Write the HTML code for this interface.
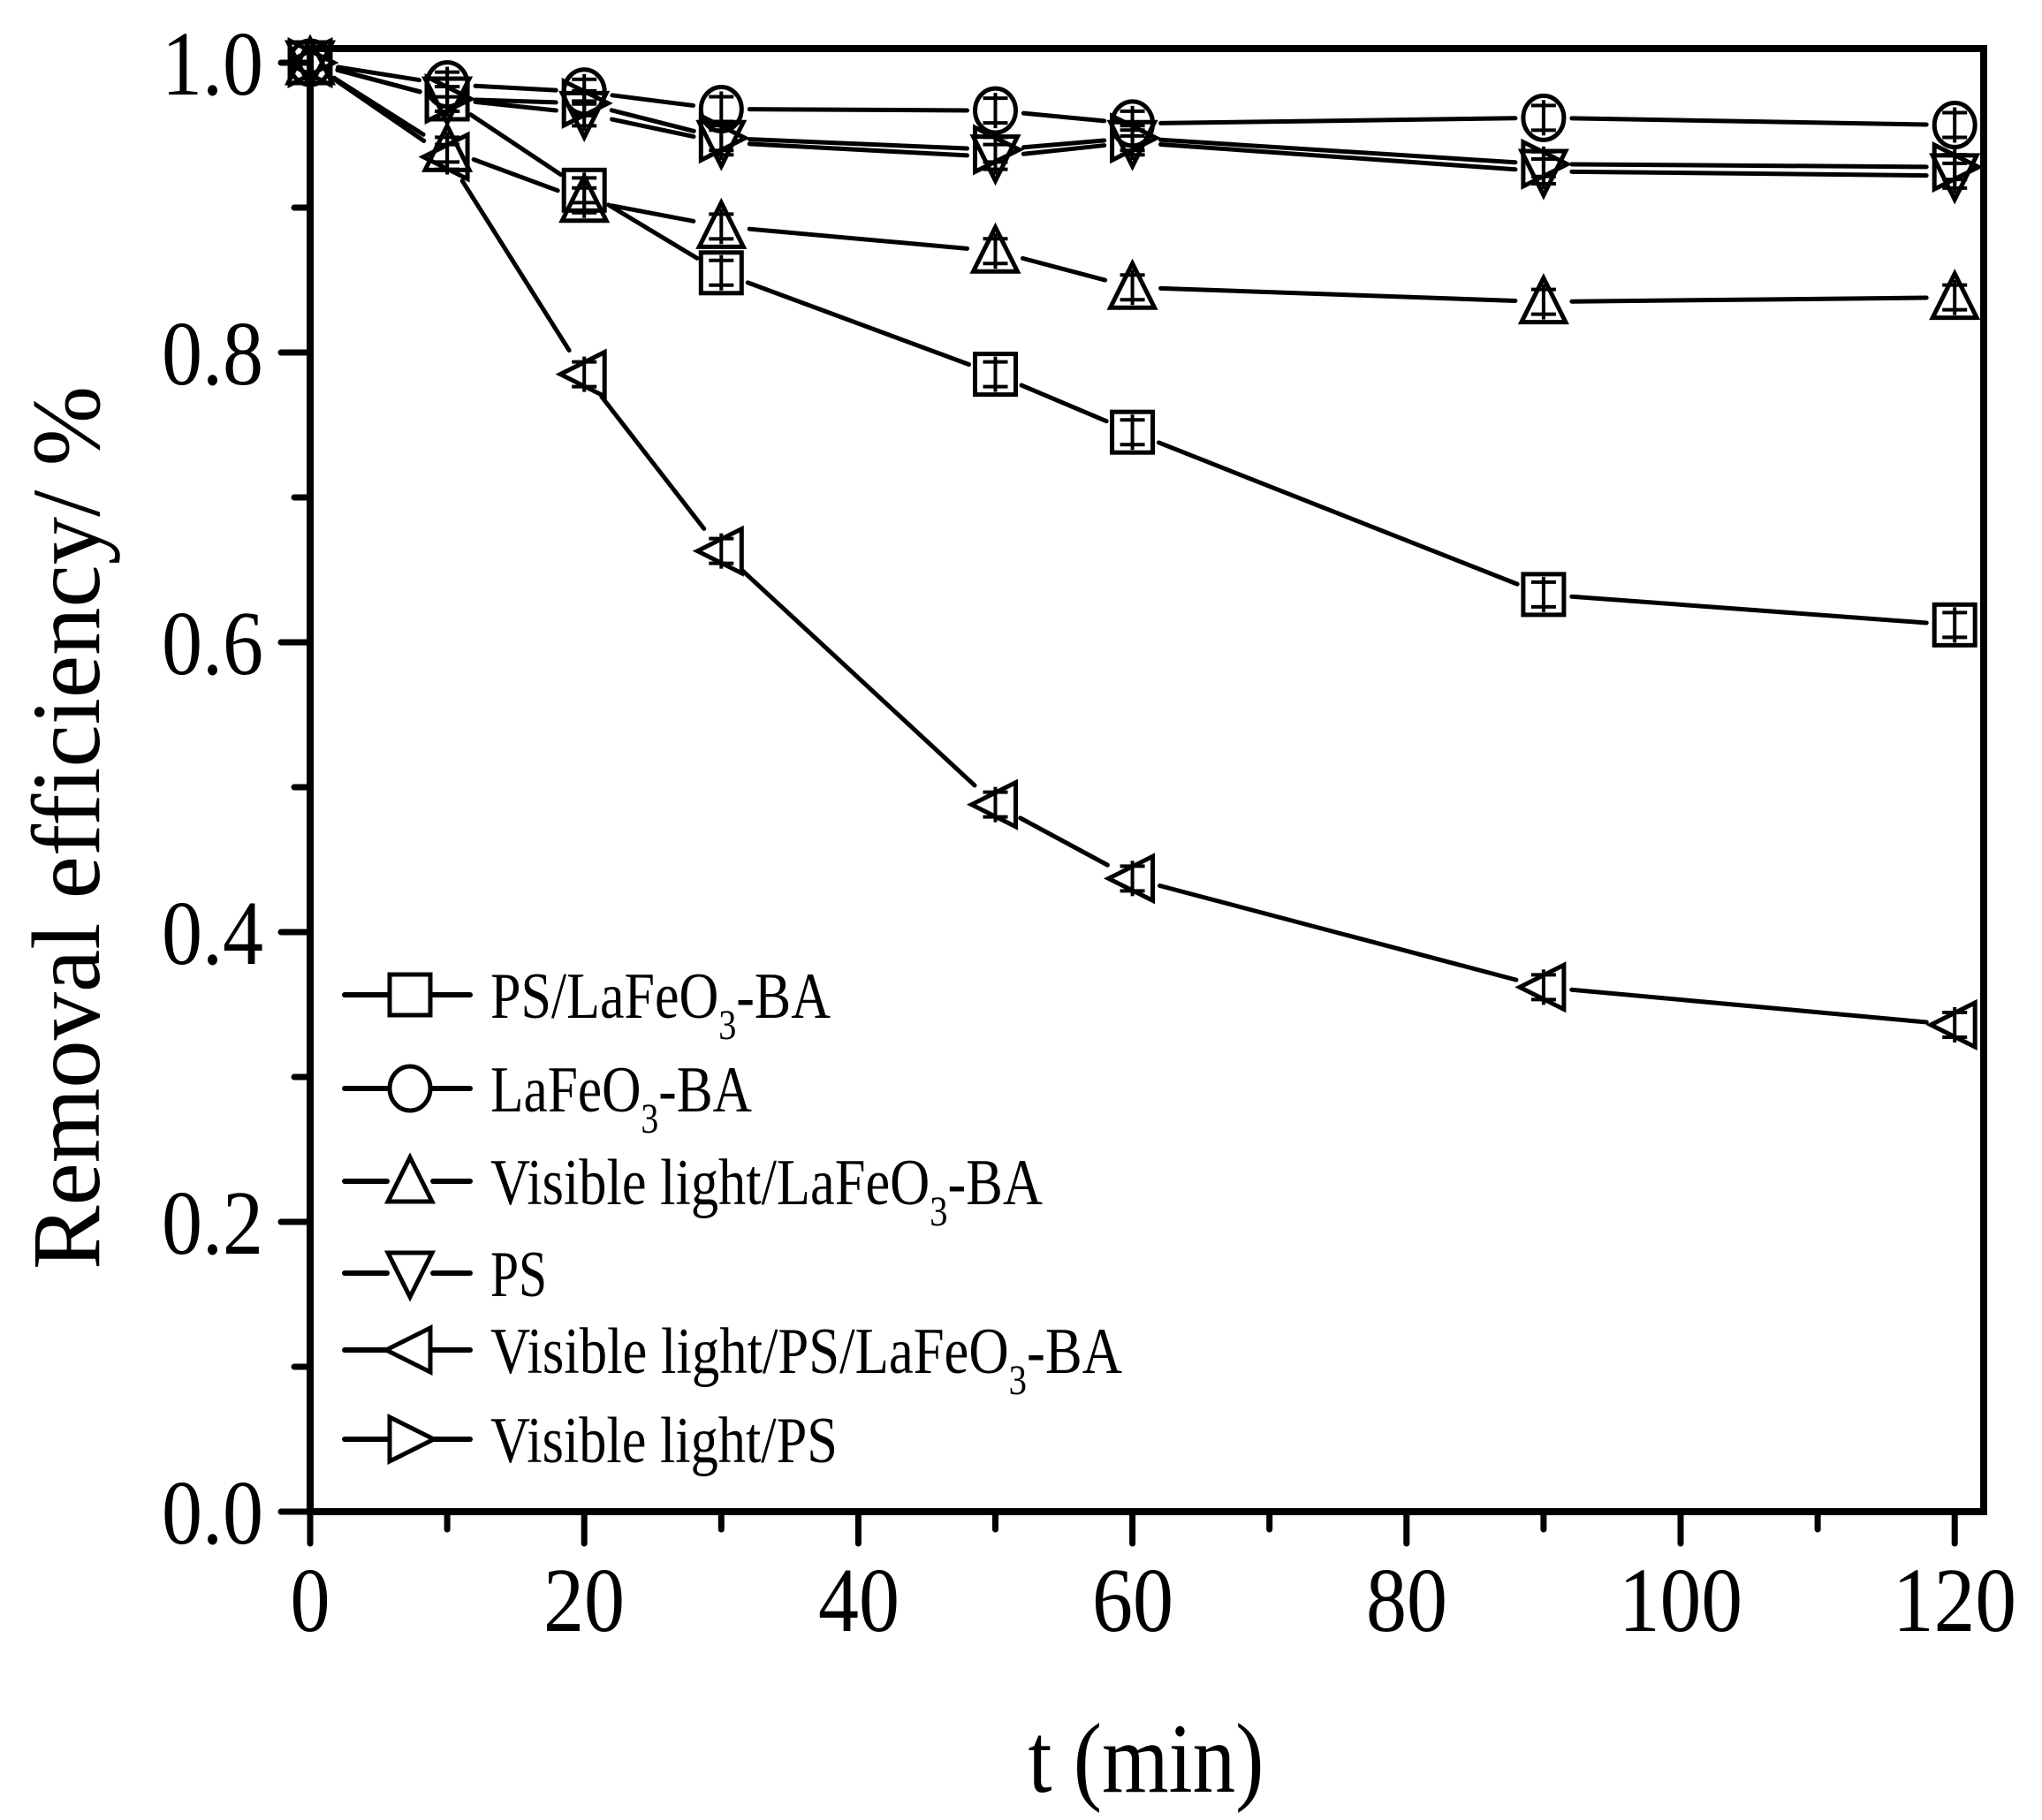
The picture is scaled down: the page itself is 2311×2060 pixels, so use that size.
<!DOCTYPE html>
<html><head><meta charset="utf-8"><style>html,body{margin:0;padding:0;background:#fff}svg{display:block}</style></head>
<body>
<svg id="s" width="2311" height="2060" viewBox="0 0 2311 2060" xmlns="http://www.w3.org/2000/svg" font-family="Liberation Serif, serif">
<rect width="2311" height="2060" fill="#fff"/>
<g id="plot"></g>
<rect x="351" y="55" width="1894" height="1656" fill="none" stroke="#000" stroke-width="8"/>
<g font-size="104" text-anchor="middle" lengthAdjust="spacingAndGlyphs">
<text x="351" y="1846" textLength="45" lengthAdjust="spacingAndGlyphs">0</text>
<text x="661" y="1846" textLength="92" lengthAdjust="spacingAndGlyphs">20</text>
<text x="972" y="1846" textLength="92" lengthAdjust="spacingAndGlyphs">40</text>
<text x="1282" y="1846" textLength="92" lengthAdjust="spacingAndGlyphs">60</text>
<text x="1592" y="1846" textLength="92" lengthAdjust="spacingAndGlyphs">80</text>
<text x="1902" y="1846" textLength="140" lengthAdjust="spacingAndGlyphs">100</text>
<text x="2212" y="1846" textLength="140" lengthAdjust="spacingAndGlyphs">120</text>
</g>
<g font-size="104" text-anchor="end">
<text x="298" y="1747" textLength="115" lengthAdjust="spacingAndGlyphs">0.0</text>
<text x="298" y="1419" textLength="115" lengthAdjust="spacingAndGlyphs">0.2</text>
<text x="298" y="1091" textLength="115" lengthAdjust="spacingAndGlyphs">0.4</text>
<text x="298" y="763" textLength="115" lengthAdjust="spacingAndGlyphs">0.6</text>
<text x="298" y="435" textLength="115" lengthAdjust="spacingAndGlyphs">0.8</text>
<text x="298" y="107" textLength="115" lengthAdjust="spacingAndGlyphs">1.0</text>
</g>
<text x="1297" y="2028" font-size="112" text-anchor="middle" textLength="267" lengthAdjust="spacingAndGlyphs">t (min)</text>
<text transform="translate(112,937) rotate(-90)" font-size="110" text-anchor="middle" textLength="1000" lengthAdjust="spacingAndGlyphs">Removal efficiency/ %</text>
<g id="leg" font-size="74"></g>
</svg>
<script>
var NS="http://www.w3.org/2000/svg";
function X(t){return 351+t*15.51}function Y(v){return 1711-v*1640}
function el(p,n,a){var e=document.createElementNS(NS,n);for(var k in a)e.setAttribute(k,a[k]);p.appendChild(e);return e}
var P=document.getElementById('plot');
for(var t=0;t<=120;t+=10){var maj=t%20==0;el(P,'line',{x1:X(t),x2:X(t),y1:1711,y2:1711+(maj?36:20),stroke:'#000','stroke-width':7,'stroke-linecap':'round'})}
for(var i=0;i<=10;i++){var v=i/10,maj=i%2==0;el(P,'line',{x1:351,x2:351-(maj?33:18),y1:Y(v),y2:Y(v),stroke:'#000','stroke-width':7,'stroke-linecap':'round'})}
var T=[0,10,20,30,50,60,90,120];
var S=[
['sq',[1,0.975,0.912,0.855,0.785,0.745,0.633,0.612]],
['ci',[1,0.985,0.98,0.968,0.967,0.958,0.962,0.957]],
['up',[1,0.94,0.905,0.887,0.87,0.845,0.835,0.838]],
['dn',[1,0.975,0.965,0.945,0.935,0.945,0.925,0.922]],
['lt',[1,0.935,0.785,0.663,0.488,0.437,0.362,0.336]],
['rt',[1,0.975,0.972,0.948,0.94,0.948,0.93,0.928]]];
function marker(g,type,x,y){var st={fill:'none',stroke:'#000','stroke-width':5};var r=23;
 if(type=='sq')el(g,'rect',Object.assign({x:x-r,y:y-r,width:2*r,height:2*r},st));
 else if(type=='ci')el(g,'ellipse',Object.assign({cx:x,cy:y,rx:r,ry:r+2},st));
 else{var p;if(type=='up')p=[[x,y-r-4],[x+r+2,y+r],[x-r-2,y+r]];
 if(type=='dn')p=[[x,y+r+4],[x+r+2,y-r],[x-r-2,y-r]];
 if(type=='lt')p=[[x-r-4,y],[x+r,y-r-2],[x+r,y+r+2]];
 if(type=='rt')p=[[x+r+4,y],[x-r,y-r-2],[x-r,y+r+2]];
 el(g,'polygon',Object.assign({points:p.map(function(q){return q.join(',')}).join(' ')},st));}}
S.forEach(function(s){var pts=T.map(function(t,i){return[X(t),Y(s[1][i])]});
 for(var i=0;i<pts.length-1;i++){var a=pts[i],b=pts[i+1],dx=b[0]-a[0],dy=b[1]-a[1],L=Math.hypot(dx,dy),g=32;
  if(L>2*g)el(P,'line',{x1:a[0]+dx/L*g,y1:a[1]+dy/L*g,x2:b[0]-dx/L*g,y2:b[1]-dy/L*g,stroke:'#000','stroke-width':5,'stroke-linecap':'round'});}
 pts.forEach(function(p,i){marker(P,s[0],p[0],p[1]);if(i>0){var e=20;
  el(P,'line',{x1:p[0],x2:p[0],y1:p[1]-e,y2:p[1]+e,stroke:'#000','stroke-width':4});
  el(P,'line',{x1:p[0]-14,x2:p[0]+14,y1:p[1]-e+6,y2:p[1]-e+6,stroke:'#000','stroke-width':4});
  el(P,'line',{x1:p[0]-14,x2:p[0]+14,y1:p[1]+e-6,y2:p[1]+e-6,stroke:'#000','stroke-width':4});}});});
var G=document.getElementById('leg');
var LY=[1126,1232,1337,1441,1528,1629];
var LT=[['PS/LaFeO','3','-BA',385],['LaFeO','3','-BA',296],['Visible light/LaFeO','3','-BA',625],['PS','','',64],['Visible light/PS/LaFeO','3','-BA',715],['Visible light/PS','','',393]];
LY.forEach(function(y,i){el(G,'line',{x1:390,x2:438,y1:y,y2:y,stroke:'#000','stroke-width':6,'stroke-linecap':'round'});
 el(G,'line',{x1:490,x2:532,y1:y,y2:y,stroke:'#000','stroke-width':6,'stroke-linecap':'round'});
 marker(G,S[i][0],464,y);
 var t=el(G,'text',{x:555,y:y+26,textLength:LT[i][3],lengthAdjust:'spacingAndGlyphs'});
 t.appendChild(document.createTextNode(LT[i][0]));
 if(LT[i][1]){var s1=document.createElementNS(NS,'tspan');s1.setAttribute('dy','24');s1.setAttribute('font-size','48');s1.textContent=LT[i][1];t.appendChild(s1);
 var s2=document.createElementNS(NS,'tspan');s2.setAttribute('dy','-24');s2.textContent=LT[i][2];t.appendChild(s2);}
});
</script>
</body></html>
